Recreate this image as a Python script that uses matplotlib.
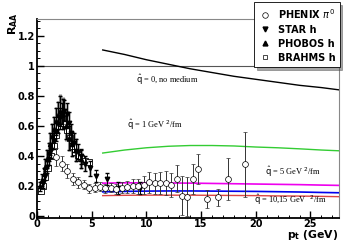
import matplotlib
matplotlib.use("Agg")
import matplotlib.pyplot as plt
from matplotlib.ticker import MultipleLocator

# ---------------- DATA ----------------
# PHENIX pi0 (open circles)
phenix_pt = [1.75, 2.25, 2.75, 3.25, 3.75, 4.25, 4.75, 5.25, 5.75, 6.25, 6.75, 7.25, 7.75,
             8.25, 8.75, 9.25, 9.75, 10.25, 10.75, 11.25, 11.75, 12.25, 12.75, 13.25,
             13.75, 14.25, 14.75, 15.5, 16.5, 17.5, 19.0]
phenix_r = [0.395, 0.35, 0.30, 0.245, 0.225, 0.21, 0.185, 0.19, 0.195, 0.185, 0.19, 0.18,
            0.19, 0.195, 0.20, 0.20, 0.21, 0.225, 0.22, 0.22, 0.22, 0.21, 0.25, 0.135,
            0.13, 0.245, 0.315, 0.115, 0.125, 0.245, 0.345]
phenix_err = [0.06, 0.05, 0.045, 0.04, 0.035, 0.03, 0.03, 0.03, 0.03, 0.03, 0.03, 0.035,
              0.035, 0.04, 0.045, 0.05, 0.06, 0.07, 0.07, 0.075, 0.08, 0.08, 0.09, 0.13,
              0.13, 0.10, 0.10, 0.06, 0.055, 0.14, 0.215]

# STAR h (filled down triangles)
star_pt = [0.5, 0.7, 0.9, 1.1, 1.3, 1.5, 1.7, 1.9, 2.1, 2.3, 2.5, 2.7, 2.9, 3.1, 3.4,
           3.7, 4.0, 4.4, 4.8, 5.4, 6.4, 7.4, 9.4]
star_r = [0.22, 0.27, 0.33, 0.38, 0.44, 0.50, 0.56, 0.61, 0.65, 0.68, 0.70, 0.68, 0.62,
          0.55, 0.49, 0.43, 0.40, 0.35, 0.32, 0.265, 0.25, 0.185, 0.185]
star_err = [0.03, 0.03, 0.04, 0.04, 0.05, 0.05, 0.06, 0.06, 0.07, 0.07, 0.07, 0.07, 0.07,
            0.06, 0.06, 0.05, 0.05, 0.05, 0.05, 0.04, 0.04, 0.04, 0.04]

# PHOBOS h (filled up triangles)
phobos_pt = [0.3, 0.45, 0.6, 0.75, 0.9, 1.05, 1.2, 1.35, 1.5, 1.7, 1.9, 2.1, 2.35, 2.6,
             2.9, 3.2, 3.6, 4.0]
phobos_r = [0.20, 0.24, 0.28, 0.33, 0.38, 0.43, 0.48, 0.53, 0.58, 0.63, 0.67, 0.70, 0.68,
            0.60, 0.52, 0.48, 0.44, 0.38]
phobos_err = [0.03, 0.04, 0.04, 0.05, 0.06, 0.06, 0.07, 0.08, 0.08, 0.09, 0.09, 0.10,
              0.10, 0.09, 0.08, 0.08, 0.07, 0.06]

# BRAHMS h (open squares)
brahms_pt = [0.35, 0.55, 0.75, 1.0, 1.25, 1.5, 1.75, 2.0, 2.25, 2.5, 2.75, 3.0, 3.25,
             3.5, 3.75, 4.0, 4.35, 4.7]
brahms_r = [0.17, 0.20, 0.26, 0.32, 0.40, 0.47, 0.54, 0.60, 0.64, 0.62, 0.57, 0.52,
            0.47, 0.43, 0.41, 0.39, 0.37, 0.36]

# theory curves
theory_pt = [6, 8, 10, 12, 14, 16, 18, 20, 22, 24, 26, 27.6]
q0 = [1.105, 1.075, 1.04, 1.01, 0.98, 0.955, 0.93, 0.91, 0.89, 0.87, 0.855, 0.84]
q1 = [0.42, 0.44, 0.455, 0.465, 0.47, 0.47, 0.467, 0.46, 0.455, 0.448, 0.44, 0.435]
q5 = [0.22, 0.222, 0.222, 0.221, 0.22, 0.218, 0.216, 0.214, 0.212, 0.21, 0.207, 0.205]
q10 = [0.162, 0.165, 0.167, 0.168, 0.168, 0.167, 0.166, 0.165, 0.163, 0.161, 0.158, 0.156]
q15 = [0.137, 0.139, 0.14, 0.14, 0.14, 0.139, 0.138, 0.137, 0.135, 0.134, 0.132, 0.13]

# ---------------- PLOT ----------------
fig = plt.figure(figsize=(3.64, 2.42), dpi=100)
ax = fig.add_axes([0.102, 0.099, 0.829, 0.822])

ax.axhline(1.0, color="#555555", lw=0.8, zorder=1)

# grey systematic bars at low pt
ax.errorbar(phobos_pt, phobos_r, yerr=[e * 1.1 for e in phobos_err], fmt="none",
            ecolor="#8a8a8a", elinewidth=2.2, zorder=2)
ax.errorbar(star_pt[:19], star_r[:19], yerr=star_err[:19], fmt="none",
            ecolor="#9a9a9a", elinewidth=1.8, zorder=2)

ax.errorbar(phobos_pt, phobos_r, yerr=phobos_err, fmt="^", ms=3, color="black",
            elinewidth=0.7, capsize=1.2, zorder=4)
ax.errorbar(star_pt, star_r, yerr=star_err, fmt="v", ms=3.2, color="black",
            elinewidth=0.7, capsize=1.2, zorder=4)
ax.plot(brahms_pt, brahms_r, "s", ms=3.8, mfc="white", mec="black", mew=0.6, ls="none",
        zorder=3)
ax.errorbar(phenix_pt, phenix_r, yerr=phenix_err, fmt="o", ms=4.2, mfc="white",
            mec="black", mew=0.5, color="#333333", elinewidth=0.7, capsize=1.5, zorder=5)

ax.plot(theory_pt, q0, color="black", lw=1.0, zorder=3)
ax.plot(theory_pt, q1, color="#33cc33", lw=1.0, zorder=3)
ax.plot(theory_pt, q5, color="#ee00ee", lw=1.2, zorder=3)
ax.plot(theory_pt, q10, color="#0000ee", lw=1.2, zorder=3)
ax.plot(theory_pt, q15, color="#dd4444", lw=1.0, zorder=3)

serif = dict(family="Liberation Serif", fontsize=6)
ax.text(9.0, 0.885, r"$\hat{\mathrm{q}}$ = 0, no medium", **serif)
ax.text(8.2, 0.585, r"$\hat{\mathrm{q}}$ = 1 GeV $^2$/fm", **serif)
ax.text(20.8, 0.275, r"$\hat{\mathrm{q}}$ = 5 GeV $^2$/fm", **serif)
ax.text(19.8, 0.085, r"$\hat{\mathrm{q}}$ = 10,15 GeV  $^2$/fm", **serif)

ax.set_xlim(0, 27.6)
ax.set_ylim(-0.012, 1.31)
ax.xaxis.set_major_locator(MultipleLocator(5))
ax.xaxis.set_minor_locator(MultipleLocator(1))
ax.yaxis.set_minor_locator(MultipleLocator(0.05))
ax.set_yticks([0, 0.2, 0.4, 0.6, 0.8, 1.0, 1.2])
ax.set_yticklabels(["0", "0.2", "0.4", "0.6", "0.8", "1", "1.2"])
ax.tick_params(which="both", direction="in", top=False, right=False, labelsize=7, pad=1.5)
ax.tick_params(axis="x", pad=0.8)
ax.tick_params(which="major", length=5, width=1)
ax.tick_params(which="minor", length=2.5, width=0.7)
for lab in ax.get_xticklabels() + ax.get_yticklabels():
    lab.set_fontweight("bold")

ax.spines["left"].set_linewidth(1.3)
ax.spines["bottom"].set_linewidth(1.3)
ax.spines["top"].set_color("#888888")
ax.spines["right"].set_color("#888888")
ax.spines["top"].set_linewidth(0.8)
ax.spines["right"].set_linewidth(0.8)

fig.text(0.036, 0.95, r"$\mathbf{R_{AA}}$", rotation=90, ha="center", va="top", fontsize=8)
fig.text(0.93, 0.0, r"$\mathbf{p_t}$ (GeV)", ha="right", va="bottom", fontsize=7.8,
         fontweight="bold")

# legend box with shadow
h1 = ax.plot([], [], "o", ms=4, mfc="white", mec="black", mew=0.5)[0]
h2 = ax.plot([], [], "v", ms=3.5, color="black")[0]
h3 = ax.plot([], [], "^", ms=3.5, color="black")[0]
h4 = ax.plot([], [], "s", ms=3.5, mfc="white", mec="black", mew=0.5)[0]
leg = fig.legend([h1, h2, h3, h4],
                 [r"PHENIX $\pi^0$", "STAR h", "PHOBOS h", "BRAHMS h"],
                 loc="upper right", bbox_to_anchor=(0.933, 0.99), frameon=True,
                 fancybox=False, shadow=True, prop=dict(weight="bold", size=7),
                 handlelength=1.4, handletextpad=0.6, labelspacing=0.42,
                 borderpad=0.45, borderaxespad=0)
leg.get_frame().set_edgecolor("black")
leg.get_frame().set_linewidth(0.6)

fig.savefig("out.png", dpi=100)
